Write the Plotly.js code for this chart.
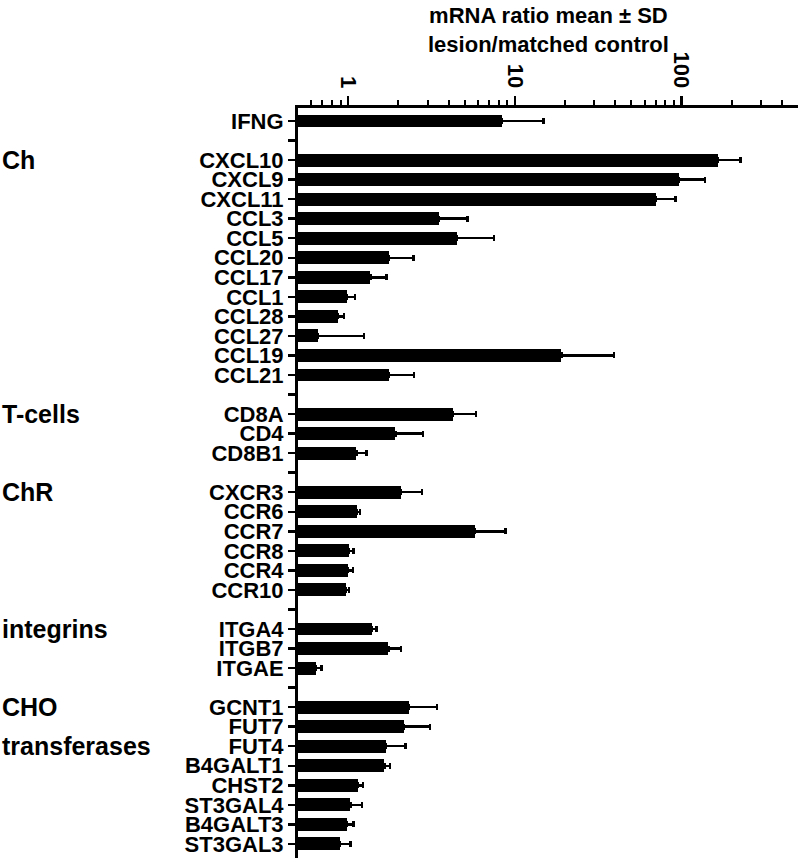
<!DOCTYPE html>
<html>
<head>
<meta charset="utf-8">
<script src="https://cdn.plot.ly/plotly-3.0.1.min.js"></script>
<style>html,body{margin:0;padding:0;background:#fff;}#chart{width:800px;height:860px;}</style>
</head>
<body>
<div id="chart"></div>
<script>
// ---- data ----
const genes = ["IFNG",
  "CXCL10","CXCL9","CXCL11","CCL3","CCL5","CCL20","CCL17","CCL1","CCL28","CCL27","CCL19","CCL21",
  "CD8A","CD4","CD8B1",
  "CXCR3","CCR6","CCR7","CCR8","CCR4","CCR10",
  "ITGA4","ITGB7","ITGAE",
  "GCNT1","FUT7","FUT4","B4GALT1","CHST2","ST3GAL4","B4GALT3","ST3GAL3"];
const meanRatio = [8.4,
  166, 96, 70, 3.5, 4.5, 1.75, 1.36, 0.98, 0.87, 0.655, 19.0, 1.76,
  4.27, 1.92, 1.12,
  2.07, 1.13, 5.75, 1.01, 1.0, 0.973,
  1.39, 1.74, 0.637,
  2.32, 2.16, 1.69, 1.65, 1.14, 1.03, 0.986, 0.895];
const sdRatio = [6.5,
  60, 42, 22, 1.7, 3.0, 0.72, 0.34, 0.12, 0.075, 0.59, 20.4, 0.72,
  1.57, 0.9, 0.17,
  0.71, 0.045, 3.05, 0.07, 0.07, 0.04,
  0.09, 0.33, 0.055,
  1.1, 0.93, 0.52, 0.13, 0.09, 0.18, 0.09, 0.14];
const groupSizes = [1, 12, 3, 6, 3, 8];
const groupNames = ["", "Ch", "T-cells", "ChR", "integrins", "CHO|transferases"];
const majorTicks = [1, 10, 100];
const majorTickText = ["1", "10", "100"];
const titleText = "mRNA ratio mean ± SD<br>lesion/matched control";

// ---- layout helpers: slot positions with one empty slot between groups ----
const ypos = [], tickvals = [], ticktext = [], groupStart = [];
let slot = 0, gi = 0;
groupSizes.forEach((n, g) => {
  if (g > 0) { tickvals.push(slot); ticktext.push(""); slot++; }
  groupStart.push(slot);
  for (let i = 0; i < n; i++) {
    ypos.push(slot); tickvals.push(slot); ticktext.push(genes[gi]); slot++; gi++;
  }
});
const lastSlot = slot - 1;

const xMin = 0.5, xMax = 500;
const minorVals = [];
for (let e = -1; e <= 2; e++) {
  for (let d = 2; d <= 9; d++) {
    const v = d * Math.pow(10, e);
    if (v > xMin && v < xMax) minorVals.push(v);
  }
}

const FONT = "Liberation Sans, Arial, Helvetica, sans-serif";
const PLOT_L = 298, PLOT_W = 500, PLOT_T = 108, PLOT_H = 750;

const trace = {
  type: "bar",
  orientation: "h",
  y: ypos,
  x: meanRatio,
  marker: {color: "#000", line: {width: 0}},
  width: 0.66,
  error_x: {
    type: "data",
    symmetric: false,
    array: sdRatio,
    arrayminus: sdRatio.map(() => 0),
    color: "#000",
    thickness: 2.5,
    width: 3
  },
  hoverinfo: "x+y"
};

const annotations = [];
groupNames.forEach((name, g) => {
  if (!name) return;
  name.split("|").forEach((line, k) => {
    annotations.push({
      text: line, xref: "paper", yref: "y",
      x: (0 - PLOT_L) / PLOT_W, y: groupStart[g] + 2 * k,
      xanchor: "left", yanchor: "middle", showarrow: false,
      font: {family: FONT, size: 25, color: "#000", weight: "bold"}
    });
  });
});
annotations.push({
  text: titleText, xref: "paper", yref: "paper",
  x: 0.5, y: (PLOT_T + PLOT_H - 1) / PLOT_H,
  xanchor: "center", yanchor: "top", showarrow: false, align: "center",
  font: {family: FONT, size: 22, color: "#000", weight: "bold"}
});

const layout = {
  width: 800, height: 860,
  margin: {l: PLOT_L, r: 800 - PLOT_L - PLOT_W, t: PLOT_T, b: 860 - PLOT_T - PLOT_H, pad: 0},
  paper_bgcolor: "#fff", plot_bgcolor: "#fff",
  showlegend: false,
  bargap: 0,
  xaxis: {
    type: "log",
    side: "top",
    range: [Math.log10(xMin), Math.log10(xMax)],
    tickmode: "array", tickvals: majorTicks, ticktext: majorTickText,
    tickangle: 90,
    ticks: "outside", ticklen: 9, tickwidth: 2.5, tickcolor: "#000",
    minor: {tickmode: "array", tickvals: minorVals, ticks: "outside", ticklen: 5, tickwidth: 2, tickcolor: "#000", showgrid: false},
    showline: true, linecolor: "#000", linewidth: 3,
    showgrid: false, zeroline: false,
    tickfont: {family: FONT, size: 22, color: "#000", weight: "bold"},
    fixedrange: true
  },
  yaxis: {
    range: [lastSlot + 0.72, -0.665],
    tickmode: "array", tickvals: tickvals, ticktext: ticktext,
    ticks: "outside", ticklen: 7, tickwidth: 2.5, tickcolor: "#000",
    showline: true, linecolor: "#000", linewidth: 3,
    showgrid: false, zeroline: false,
    tickfont: {family: FONT, size: 22, color: "#000", weight: "bold"},
    fixedrange: true
  },
  annotations: annotations
};

Plotly.newPlot("chart", [trace], layout, {displayModeBar: false, staticPlot: true});
</script>
</body>
</html>
